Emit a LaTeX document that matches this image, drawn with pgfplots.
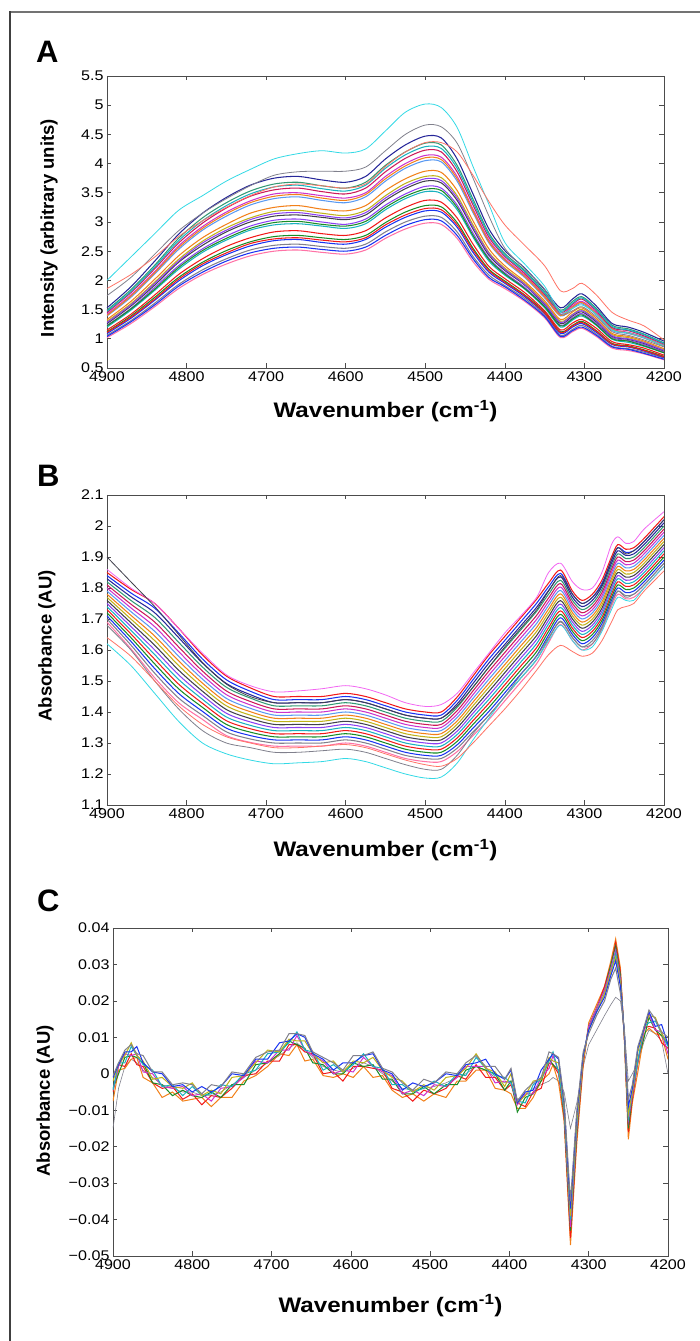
\documentclass[border=0pt]{standalone}
\usepackage{pgfplots}
\pgfplotsset{compat=1.18}
\usepackage{pgfplotstable}
\usepackage{fontspec}
\setmainfont{Liberation Sans}
\newfontfamily\widefont{Liberation Sans}[FakeStretch=1.15]

\definecolor{mR}{rgb}{0.95,0.1,0.1}
\definecolor{mB}{rgb}{0.1,0.2,0.95}
\definecolor{mG}{rgb}{0.1,0.55,0.15}
\definecolor{mT}{rgb}{0.1,0.7,0.75}
\definecolor{mM}{rgb}{0.8,0.2,0.8}
\definecolor{mY}{rgb}{0.75,0.7,0.1}
\definecolor{mK}{rgb}{0.25,0.25,0.3}
\definecolor{mP}{rgb}{0.55,0.25,0.95}
\definecolor{mO}{rgb}{0.95,0.5,0.1}
\definecolor{mPk}{rgb}{1,0.45,0.65}
\definecolor{mLB}{rgb}{0.35,0.6,0.95}
\definecolor{mSG}{rgb}{0.2,0.6,0.45}
\definecolor{mCr}{rgb}{0.8,0.1,0.35}
\definecolor{mGr}{rgb}{0.5,0.5,0.55}
\definecolor{mNv}{rgb}{0.15,0.15,0.6}
\definecolor{mCy}{rgb}{0.2,0.85,0.9}
\definecolor{mSal}{rgb}{1,0.45,0.4}
\definecolor{mVi}{rgb}{0.95,0.4,0.95}

\pgfplotsset{
  spec/.style={
    scale only axis, x dir=reverse, xmin=4200, xmax=4900,
    enlargelimits=false,
    xtick={4200,4300,4400,4500,4600,4700,4800,4900},
    /pgf/number format/1000 sep={},
    /pgf/number format/assume math mode=true,
    tick align=inside, major tick length=4.5pt,
    axis line style={draw=black!70, line width=0.8pt},
    every tick/.style={black!70, line width=0.6pt},
    tick label style={font=\widefont\fontsize{14}{14}\selectfont, text=black},
    xlabel style={font=\widefont\bfseries\fontsize{21}{21}\selectfont, anchor=center},
    ylabel style={font=\bfseries\fontsize{18.5}{18.5}\selectfont, anchor=center},
    xlabel={Wavenumber (cm\textsuperscript{-1})},
    every axis plot/.append style={line width=1.05pt},
    no markers,
    cycle list={{mPk},{mGr},{mB},{mG},{mR},{mT},{mP},{mK},{mY},{mO},{mLB},{mM},{mCr},{mSG},{mNv},{mB},{mR},{mG},{mP},{mO},{mT},{mM}},
  }
}

\pgfplotstableread{
x a1 a2 a3 a4 a5 a6 a7 a8 a9 a10 a11 a12 a13 a14 a15 cy gr sa a16 a17 a18 a19 a20 a21
4900 1.02 1.06 1.09 1.12 1.15 1.20 1.23 1.26 1.30 1.33 1.39 1.42 1.45 1.49 1.53 2.00 1.74 1.86 1.04 1.11 1.22 1.28 1.40 1.47
4870 1.26 1.31 1.35 1.39 1.42 1.49 1.52 1.56 1.60 1.64 1.71 1.75 1.79 1.84 1.89 2.40 2.05 2.10 1.29 1.37 1.51 1.58 1.73 1.81
4840 1.55 1.61 1.66 1.71 1.75 1.83 1.88 1.92 1.97 2.02 2.11 2.15 2.20 2.26 2.33 2.80 2.45 2.40 1.58 1.68 1.85 1.95 2.13 2.23
4810 1.86 1.93 1.99 2.05 2.10 2.19 2.25 2.31 2.36 2.42 2.53 2.59 2.64 2.72 2.79 3.20 2.85 2.75 1.90 2.02 2.22 2.33 2.56 2.68
4780 2.10 2.18 2.25 2.31 2.37 2.48 2.54 2.60 2.67 2.73 2.86 2.92 2.98 3.07 3.15 3.45 3.15 3.02 2.14 2.28 2.51 2.64 2.89 3.02
4750 2.28 2.37 2.44 2.51 2.58 2.69 2.76 2.83 2.90 2.96 3.10 3.17 3.24 3.33 3.42 3.70 3.40 3.25 2.33 2.47 2.72 2.86 3.14 3.28
4720 2.42 2.52 2.59 2.66 2.73 2.86 2.93 3.00 3.07 3.15 3.29 3.36 3.44 3.53 3.63 3.90 3.62 3.45 2.47 2.63 2.89 3.04 3.33 3.48
4690 2.50 2.60 2.68 2.75 2.83 2.95 3.03 3.10 3.18 3.25 3.40 3.48 3.55 3.65 3.75 4.08 3.80 3.60 2.55 2.71 2.99 3.14 3.44 3.60
4660 2.52 2.62 2.70 2.77 2.85 2.97 3.05 3.12 3.20 3.28 3.43 3.50 3.58 3.68 3.78 4.17 3.86 3.65 2.57 2.73 3.01 3.16 3.47 3.63
4630 2.48 2.58 2.65 2.73 2.80 2.93 3.00 3.08 3.15 3.22 3.37 3.45 3.52 3.62 3.72 4.22 3.87 3.62 2.53 2.69 2.96 3.11 3.41 3.57
4600 2.45 2.55 2.62 2.70 2.77 2.89 2.96 3.04 3.11 3.19 3.33 3.41 3.48 3.58 3.68 4.18 3.87 3.58 2.50 2.66 2.93 3.07 3.37 3.53
4575 2.52 2.62 2.70 2.77 2.85 2.97 3.05 3.12 3.20 3.28 3.43 3.50 3.58 3.68 3.78 4.25 3.94 3.65 2.57 2.73 3.01 3.16 3.47 3.63
4550 2.72 2.83 2.91 2.99 3.07 3.21 3.29 3.37 3.45 3.54 3.70 3.78 3.86 3.97 4.08 4.56 4.22 3.95 2.77 2.95 3.25 3.41 3.74 3.92
4525 2.88 3.00 3.08 3.17 3.25 3.40 3.48 3.57 3.66 3.74 3.92 4.00 4.09 4.20 4.32 4.88 4.50 4.20 2.94 3.12 3.44 3.61 3.96 4.15
4500 2.98 3.10 3.19 3.28 3.37 3.52 3.61 3.70 3.78 3.87 4.05 4.14 4.23 4.35 4.47 5.02 4.66 4.36 3.04 3.23 3.56 3.74 4.10 4.29
4480 2.96 3.08 3.17 3.26 3.34 3.49 3.58 3.67 3.76 3.85 4.03 4.11 4.20 4.32 4.44 4.96 4.63 4.36 3.02 3.21 3.54 3.71 4.07 4.26
4460 2.72 2.83 2.91 2.99 3.07 3.21 3.29 3.37 3.45 3.54 3.70 3.78 3.86 3.97 4.08 4.62 4.35 4.20 2.77 2.95 3.25 3.41 3.74 3.92
4440 2.32 2.41 2.48 2.55 2.62 2.74 2.81 2.88 2.95 3.02 3.16 3.22 3.29 3.39 3.48 3.95 3.75 3.80 2.37 2.52 2.77 2.91 3.19 3.34
4420 2.02 2.09 2.14 2.19 2.24 2.33 2.38 2.43 2.48 2.54 2.64 2.69 2.74 2.81 2.88 3.30 3.10 3.35 2.05 2.17 2.36 2.46 2.66 2.78
4400 1.86 1.91 1.95 1.99 2.03 2.09 2.13 2.17 2.21 2.25 2.33 2.37 2.41 2.46 2.51 2.65 2.55 2.95 1.89 1.97 2.11 2.19 2.35 2.43
4375 1.64 1.69 1.72 1.75 1.79 1.85 1.88 1.92 1.95 1.98 2.05 2.09 2.12 2.17 2.21 2.28 2.20 2.60 1.66 1.74 1.86 1.93 2.07 2.15
4350 1.36 1.40 1.43 1.46 1.48 1.53 1.56 1.59 1.62 1.65 1.70 1.73 1.76 1.80 1.84 1.90 1.85 2.25 1.38 1.44 1.55 1.60 1.72 1.78
4330 1.02 1.06 1.09 1.12 1.15 1.20 1.23 1.26 1.30 1.33 1.39 1.42 1.45 1.49 1.53 1.45 1.42 1.82 1.04 1.11 1.22 1.28 1.40 1.47
4315 1.12 1.16 1.20 1.23 1.27 1.32 1.36 1.39 1.42 1.46 1.52 1.56 1.59 1.64 1.68 1.52 1.48 1.86 1.14 1.22 1.34 1.41 1.54 1.61
4303 1.18 1.23 1.26 1.30 1.33 1.39 1.43 1.46 1.50 1.53 1.60 1.64 1.68 1.72 1.77 1.58 1.55 1.95 1.20 1.28 1.41 1.48 1.62 1.70
4285 1.04 1.08 1.11 1.14 1.18 1.23 1.26 1.29 1.32 1.35 1.41 1.45 1.48 1.52 1.56 1.42 1.38 1.75 1.06 1.13 1.24 1.31 1.43 1.50
4265 0.84 0.87 0.90 0.92 0.95 0.99 1.02 1.04 1.07 1.09 1.14 1.17 1.19 1.23 1.26 1.15 1.12 1.45 0.86 0.91 1.00 1.05 1.16 1.21
4245 0.80 0.83 0.86 0.88 0.90 0.94 0.97 0.99 1.02 1.04 1.09 1.11 1.14 1.17 1.20 1.10 1.06 1.32 0.82 0.87 0.96 1.00 1.10 1.15
4225 0.74 0.77 0.79 0.81 0.84 0.87 0.90 0.92 0.94 0.96 1.01 1.03 1.05 1.08 1.11 1.02 0.98 1.22 0.75 0.80 0.88 0.93 1.02 1.07
4200 0.64 0.67 0.68 0.70 0.72 0.76 0.77 0.79 0.81 0.83 0.87 0.89 0.91 0.93 0.96 0.88 0.86 0.98 0.65 0.69 0.76 0.80 0.88 0.92
}\tabA

\pgfplotstableread{
x b1 b2 b3 b4 b5 b6 b7 b8 b9 b10 b11 b12 b13 b14 b15 b16 b17 cy gr rd mg bk
4900 1.69 1.70 1.71 1.72 1.73 1.74 1.75 1.76 1.77 1.78 1.79 1.80 1.81 1.82 1.83 1.84 1.85 1.62 1.68 1.64 1.86 1.90
4870 1.604 1.616 1.628 1.640 1.652 1.664 1.676 1.688 1.700 1.712 1.724 1.736 1.748 1.760 1.772 1.784 1.796 1.55 1.60 1.58 1.80 1.82
4840 1.510 1.525 1.540 1.555 1.570 1.585 1.600 1.615 1.630 1.645 1.660 1.675 1.690 1.705 1.720 1.735 1.750 1.46 1.50 1.50 1.75 1.74
4810 1.430 1.445 1.460 1.475 1.490 1.505 1.520 1.535 1.550 1.565 1.580 1.595 1.610 1.625 1.640 1.655 1.670 1.37 1.41 1.42 1.67 1.65
4780 1.376 1.389 1.402 1.415 1.428 1.441 1.454 1.467 1.480 1.493 1.506 1.519 1.532 1.545 1.558 1.571 1.584 1.30 1.34 1.36 1.59 1.56
4750 1.324 1.336 1.348 1.360 1.372 1.384 1.396 1.408 1.420 1.432 1.444 1.456 1.468 1.480 1.492 1.504 1.516 1.265 1.30 1.32 1.52 1.49
4720 1.302 1.313 1.324 1.335 1.346 1.357 1.368 1.379 1.390 1.401 1.412 1.423 1.434 1.445 1.456 1.467 1.478 1.245 1.285 1.30 1.485 1.45
4690 1.29 1.30 1.31 1.32 1.33 1.34 1.35 1.36 1.37 1.38 1.39 1.40 1.41 1.42 1.43 1.44 1.45 1.233 1.27 1.285 1.465 1.43
4660 1.29 1.30 1.31 1.32 1.33 1.34 1.35 1.36 1.37 1.38 1.39 1.40 1.41 1.42 1.43 1.44 1.45 1.236 1.27 1.285 1.468 1.43
4630 1.29 1.30 1.31 1.32 1.33 1.34 1.35 1.36 1.37 1.38 1.39 1.40 1.41 1.42 1.43 1.44 1.45 1.24 1.275 1.29 1.475 1.43
4600 1.30 1.31 1.32 1.33 1.34 1.35 1.36 1.37 1.38 1.39 1.40 1.41 1.42 1.43 1.44 1.45 1.46 1.25 1.28 1.295 1.485 1.44
4575 1.29 1.30 1.31 1.32 1.33 1.34 1.35 1.36 1.37 1.38 1.39 1.40 1.41 1.42 1.43 1.44 1.45 1.24 1.27 1.285 1.475 1.43
4550 1.27 1.28 1.29 1.30 1.31 1.32 1.33 1.34 1.35 1.36 1.37 1.38 1.39 1.40 1.41 1.42 1.43 1.22 1.25 1.265 1.455 1.41
4525 1.25 1.26 1.27 1.28 1.29 1.30 1.31 1.32 1.33 1.34 1.35 1.36 1.37 1.38 1.39 1.40 1.41 1.20 1.23 1.245 1.43 1.39
4500 1.24 1.25 1.26 1.27 1.28 1.29 1.30 1.31 1.32 1.33 1.34 1.35 1.36 1.37 1.38 1.39 1.40 1.187 1.215 1.23 1.418 1.38
4480 1.24 1.25 1.26 1.27 1.28 1.29 1.30 1.31 1.32 1.33 1.34 1.35 1.36 1.37 1.38 1.39 1.40 1.19 1.215 1.225 1.424 1.38
4460 1.272 1.283 1.294 1.305 1.316 1.327 1.338 1.349 1.360 1.371 1.382 1.393 1.404 1.415 1.426 1.437 1.448 1.235 1.26 1.25 1.46 1.42
4440 1.324 1.336 1.348 1.360 1.372 1.384 1.396 1.408 1.420 1.432 1.444 1.456 1.468 1.480 1.492 1.504 1.516 1.31 1.33 1.30 1.525 1.48
4420 1.376 1.389 1.402 1.415 1.428 1.441 1.454 1.467 1.480 1.493 1.506 1.519 1.532 1.545 1.558 1.571 1.584 1.38 1.39 1.355 1.59 1.545
4400 1.436 1.449 1.462 1.475 1.488 1.501 1.514 1.527 1.540 1.553 1.566 1.579 1.592 1.605 1.618 1.631 1.644 1.45 1.45 1.41 1.655 1.61
4380 1.496 1.509 1.522 1.535 1.548 1.561 1.574 1.587 1.600 1.613 1.626 1.639 1.652 1.665 1.678 1.691 1.704 1.51 1.52 1.47 1.71 1.67
4360 1.556 1.569 1.582 1.595 1.608 1.621 1.634 1.647 1.660 1.673 1.686 1.699 1.712 1.725 1.738 1.751 1.764 1.57 1.58 1.535 1.77 1.73
4345 1.624 1.636 1.648 1.660 1.672 1.684 1.696 1.708 1.720 1.732 1.744 1.756 1.768 1.780 1.792 1.804 1.816 1.63 1.64 1.585 1.85 1.79
4330 1.682 1.693 1.704 1.715 1.726 1.737 1.748 1.759 1.770 1.781 1.792 1.803 1.814 1.825 1.836 1.847 1.858 1.68 1.69 1.615 1.88 1.84
4315 1.63 1.64 1.65 1.66 1.67 1.68 1.69 1.70 1.71 1.72 1.73 1.74 1.75 1.76 1.77 1.78 1.79 1.63 1.64 1.595 1.82 1.78
4303 1.60 1.61 1.62 1.63 1.64 1.65 1.66 1.67 1.68 1.69 1.70 1.71 1.72 1.73 1.74 1.75 1.76 1.60 1.61 1.58 1.795 1.75
4290 1.62 1.63 1.64 1.65 1.66 1.67 1.68 1.69 1.70 1.71 1.72 1.73 1.74 1.75 1.76 1.77 1.78 1.61 1.62 1.59 1.80 1.77
4278 1.665 1.675 1.685 1.695 1.705 1.715 1.725 1.735 1.745 1.755 1.765 1.775 1.785 1.795 1.805 1.815 1.825 1.66 1.67 1.63 1.85 1.81
4266 1.74 1.75 1.76 1.77 1.78 1.79 1.80 1.81 1.82 1.83 1.84 1.85 1.86 1.87 1.88 1.89 1.90 1.73 1.75 1.69 1.94 1.89
4258 1.78 1.79 1.80 1.81 1.82 1.83 1.84 1.85 1.86 1.87 1.88 1.89 1.90 1.91 1.92 1.93 1.94 1.77 1.79 1.73 1.965 1.93
4248 1.765 1.775 1.785 1.795 1.805 1.815 1.825 1.835 1.845 1.855 1.865 1.875 1.885 1.895 1.905 1.915 1.925 1.76 1.77 1.74 1.944 1.91
4238 1.77 1.78 1.79 1.80 1.81 1.82 1.83 1.84 1.85 1.86 1.87 1.88 1.89 1.90 1.91 1.92 1.93 1.76 1.78 1.75 1.95 1.92
4225 1.80 1.81 1.82 1.83 1.84 1.85 1.86 1.87 1.88 1.89 1.90 1.91 1.92 1.93 1.94 1.95 1.96 1.80 1.81 1.79 1.99 1.95
4200 1.87 1.88 1.89 1.90 1.91 1.92 1.93 1.94 1.95 1.96 1.97 1.98 1.99 2.00 2.01 2.02 2.03 1.87 1.88 1.855 2.046 2.02
}\tabB

\pgfplotstableread{
x c1 c2 c3 c4 c5 c6 c7 c8 gr
4900 -0.0075 -0.005 -0.004 -0.0045 -0.0045 -0.002 -0.001 -0.0005 -0.015
4893 0.001 0.0025 0.000 0.002 0.003 0.0025 0.0025 0.003 -0.004
4885 0.0015 0.002 0.0045 0.0055 0.003 0.005 0.006 0.0065 0.002
4877 0.004 0.0055 0.005 0.005 0.0075 0.0085 0.006 0.008 0.004
4870 0.0045 0.0025 0.0045 0.0055 0.005 0.005 0.0075 0.0055 0.003
4862 -0.001 0.002 0.003 0.0005 0.0025 0.0035 0.003 0.005 0.001
4850 -0.0025 -0.0025 -0.0025 0.000 0.001 -0.0015 0.0005 0.0005 -0.001
4838 -0.0065 -0.004 -0.003 -0.0035 -0.0035 -0.001 0.000 0.0005 -0.003
4825 -0.005 -0.0035 -0.006 -0.004 -0.003 -0.0035 -0.0035 -0.003 -0.004
4812 -0.0075 -0.007 -0.0045 -0.0035 -0.006 -0.004 -0.003 -0.0025 -0.005
4800 -0.007 -0.0055 -0.006 -0.006 -0.0035 -0.0025 -0.005 -0.003 -0.005
4788 -0.0065 -0.0085 -0.0065 -0.0055 -0.006 -0.006 -0.0035 -0.0055 -0.006
4776 -0.009 -0.006 -0.005 -0.0075 -0.0055 -0.0045 -0.005 -0.003 -0.006
4764 -0.0065 -0.0065 -0.0065 -0.004 -0.003 -0.0055 -0.0035 -0.0035 -0.005
4750 -0.0065 -0.004 -0.003 -0.0035 -0.0035 -0.001 0.000 0.0005 -0.003
4735 -0.002 -0.0005 -0.003 -0.001 0.000 -0.0005 -0.0005 0.000 -0.001
4720 -0.0005 0.000 0.0025 0.0035 0.001 0.003 0.004 0.0045 0.001
4705 0.002 0.0035 0.003 0.003 0.0055 0.0065 0.004 0.006 0.003
4690 0.0055 0.0035 0.0055 0.0065 0.006 0.006 0.0085 0.0065 0.005
4678 0.005 0.008 0.009 0.0065 0.0085 0.0095 0.009 0.011 0.007
4668 0.008 0.008 0.008 0.0105 0.0115 0.009 0.011 0.011 0.0085
4658 0.0035 0.006 0.007 0.0065 0.0065 0.009 0.010 0.0105 0.0065
4648 0.004 0.0055 0.003 0.005 0.006 0.0055 0.0055 0.006 0.0045
4635 -0.0005 0.000 0.0025 0.0035 0.001 0.003 0.004 0.0045 0.002
4622 -0.001 0.0005 0.000 0.000 0.0025 0.0035 0.001 0.003 0.001
4610 0.000 -0.002 0.000 0.001 0.0005 0.0005 0.003 0.001 0.0005
4597 -0.001 0.002 0.003 0.0005 0.0025 0.0035 0.003 0.005 0.0015
4584 0.002 0.002 0.002 0.0045 0.0055 0.003 0.005 0.005 0.003
4572 -0.001 0.0015 0.0025 0.002 0.002 0.0045 0.0055 0.006 0.002
4560 -0.0005 0.001 -0.0015 0.0005 0.0015 0.001 0.001 0.0015 0.000
4548 -0.0045 -0.004 -0.0015 -0.0005 -0.003 -0.001 0.000 0.0005 -0.002
4535 -0.0065 -0.005 -0.0055 -0.0055 -0.003 -0.002 -0.0045 -0.0025 -0.004
4522 -0.0055 -0.0075 -0.0055 -0.0045 -0.005 -0.005 -0.0025 -0.0045 -0.0045
4508 -0.0075 -0.0045 -0.0035 -0.006 -0.004 -0.003 -0.0035 -0.0015 -0.004
4495 -0.0055 -0.0055 -0.0055 -0.003 -0.002 -0.0045 -0.0025 -0.0025 -0.0035
4480 -0.0065 -0.004 -0.003 -0.0035 -0.0035 -0.001 0.000 0.0005 -0.0025
4466 -0.002 -0.0005 -0.003 -0.001 0.000 -0.0005 -0.0005 0.000 -0.001
4455 -0.002 -0.0015 0.001 0.002 -0.0005 0.0015 0.0025 0.003 0.000
4442 0.001 0.0025 0.002 0.002 0.0045 0.0055 0.003 0.005 0.002
4430 0.001 -0.001 0.001 0.002 0.0015 0.0015 0.004 0.002 0.001
4418 -0.004 -0.001 0.000 -0.0025 -0.0005 0.0005 0.000 0.002 -0.001
4406 -0.0045 -0.0045 -0.0045 -0.002 -0.001 -0.0035 -0.0015 -0.0015 -0.0025
4398 -0.0055 -0.003 -0.002 -0.0025 -0.0025 0.000 0.001 0.0015 -0.002
4390 -0.0095 -0.008 -0.0105 -0.0085 -0.0075 -0.008 -0.008 -0.0075 -0.007
4380 -0.0095 -0.009 -0.0065 -0.0055 -0.008 -0.006 -0.005 -0.0045 -0.006
4370 -0.0065 -0.005 -0.0055 -0.0055 -0.003 -0.002 -0.0045 -0.0025 -0.004
4360 -0.002 -0.004 -0.002 -0.001 -0.0015 -0.0015 0.001 -0.001 -0.003
4350 0.000 0.003 0.004 0.0015 0.0035 0.0045 0.004 0.006 -0.002
4345 0.0025 0.0025 0.0025 0.005 0.006 0.0035 0.0055 0.0055 -0.001
4338 -0.0025 0.000 0.001 0.0005 0.0005 0.003 0.004 0.0045 -0.002
4331 -0.013 -0.012 -0.011 -0.010 -0.010 -0.009 -0.008 -0.007 -0.005
4323 -0.047 -0.045 -0.043 -0.042 -0.040 -0.039 -0.037 -0.035 -0.015
4315 -0.019 -0.017 -0.016 -0.015 -0.014 -0.013 -0.011 -0.010 -0.008
4307 0.002 0.003 0.004 0.004 0.005 0.004 0.005 0.006 0.002
4300 0.014 0.013 0.013 0.013 0.012 0.012 0.012 0.011 0.008
4290 0.019 0.018 0.018 0.018 0.017 0.017 0.017 0.016 0.012
4280 0.024 0.024 0.023 0.023 0.022 0.022 0.021 0.020 0.016
4272 0.031 0.030 0.030 0.029 0.028 0.028 0.027 0.026 0.019
4266 0.037 0.036 0.035 0.034 0.033 0.032 0.031 0.029 0.021
4260 0.029 0.028 0.027 0.026 0.025 0.025 0.024 0.022 0.020
4255 0.009 0.010 0.010 0.010 0.011 0.010 0.011 0.012 0.012
4250 -0.018 -0.016 -0.015 -0.013 -0.012 -0.011 -0.009 -0.007 -0.002
4245 -0.008 -0.007 -0.006 -0.006 -0.005 -0.005 -0.004 -0.003 0.000
4238 0.0005 0.003 0.004 0.0035 0.0035 0.006 0.007 0.0075 0.003
4230 0.011 0.0125 0.010 0.012 0.013 0.0125 0.0125 0.013 0.009
4224 0.0125 0.013 0.0155 0.0165 0.014 0.016 0.017 0.0175 0.012
4216 0.011 0.0125 0.012 0.012 0.0145 0.0155 0.013 0.015 0.011
4208 0.0105 0.0085 0.0105 0.0115 0.011 0.011 0.0135 0.0115 0.009
4200 0.004 0.007 0.008 0.0055 0.0075 0.0085 0.008 0.010 0.000
}\tabC

\begin{document}
\begin{tikzpicture}
\useasboundingbox (0pt,0pt) rectangle (699pt,1341pt);
\draw[black!55, line width=2pt] (10pt,1329pt) -- (710pt,1329pt);
\draw[black!75, line width=1.2pt] (10pt,-10pt) -- (10pt,1330pt);

\node[anchor=base west, inner sep=0pt, font=\bfseries\fontsize{31}{31}\selectfont] at (36pt,1278pt) {A};
\node[anchor=base west, inner sep=0pt, font=\bfseries\fontsize{31}{31}\selectfont] at (37pt,854pt) {B};
\node[anchor=base west, inner sep=0pt, font=\bfseries\fontsize{31}{31}\selectfont] at (37pt,429pt) {C};

% ---------- A ----------
\begin{axis}[spec, at={(107pt,973pt)}, anchor=south west, width=557pt, height=292pt,
  ymin=0.5, ymax=5.5, ytick={0.5,1,1.5,2,2.5,3,3.5,4,4.5,5,5.5},
  ylabel={Intensity (arbitrary units)},
  ylabel style={at={(axis description cs:-0.104,0.479)}},
  xlabel style={at={(axis description cs:0.5,-0.147)}}]
\pgfplotsinvokeforeach{1,...,15}{\addplot+[smooth] table[x index=0, y index=#1]{\tabA};}
\pgfplotsinvokeforeach{19,...,24}{\addplot+[smooth] table[x index=0, y index=#1]{\tabA};}
\addplot[smooth, mCy, line width=0.8pt] table[x index=0, y index=16]{\tabA};
\addplot[smooth, mGr, line width=0.8pt] table[x index=0, y index=17]{\tabA};
\addplot[smooth, mSal, line width=0.8pt] table[x index=0, y index=18]{\tabA};
\end{axis}

% ---------- B ----------
\begin{axis}[spec, at={(107pt,536pt)}, anchor=south west, width=557pt, height=310pt,
  ymin=1.1, ymax=2.1, ytick={1.1,1.2,1.3,1.4,1.5,1.6,1.7,1.8,1.9,2,2.1},
  ylabel={Absorbance (AU)},
  ylabel style={at={(axis description cs:-0.108,0.513)}},
  xlabel style={at={(axis description cs:0.5,-0.145)}}]
\pgfplotsinvokeforeach{1,...,17}{\addplot+[smooth] table[x index=0, y index=#1]{\tabB};}
\addplot[smooth, mCy, line width=0.8pt] table[x index=0, y index=18]{\tabB};
\addplot[smooth, mGr, line width=0.8pt] table[x index=0, y index=19]{\tabB};
\addplot[smooth, mSal, line width=0.8pt] table[x index=0, y index=20]{\tabB};
\addplot[smooth, mVi, line width=0.8pt] table[x index=0, y index=21]{\tabB};
\addplot[smooth, mK, line width=0.8pt] table[x index=0, y index=22]{\tabB};
\end{axis}

% ---------- C ----------
\begin{axis}[spec, at={(113pt,85pt)}, anchor=south west, width=555pt, height=328pt,
  ymin=-0.05, ymax=0.04, scaled y ticks=false,
  ytick={-0.05,-0.04,-0.03,-0.02,-0.01,0,0.01,0.02,0.03,0.04},
  yticklabels={−0.05,−0.04,−0.03,−0.02,−0.01,0,0.01,0.02,0.03,0.04},
  ylabel={Absorbance (AU)},
  ylabel style={at={(axis description cs:-0.1225,0.473)}},
  xlabel style={at={(axis description cs:0.5,-0.152)}},
  every axis plot/.append style={line width=1pt},
  cycle list={{mGr},{mO},{mR},{mG},{mM},{mT},{mY},{mB}}]
\addplot[mGr, line width=0.6pt] table[x index=0, y index=9]{\tabC};
\pgfplotsinvokeforeach{1,...,8}{\addplot+[] table[x index=0, y index=#1]{\tabC};}
\end{axis}
\end{tikzpicture}
\end{document}
